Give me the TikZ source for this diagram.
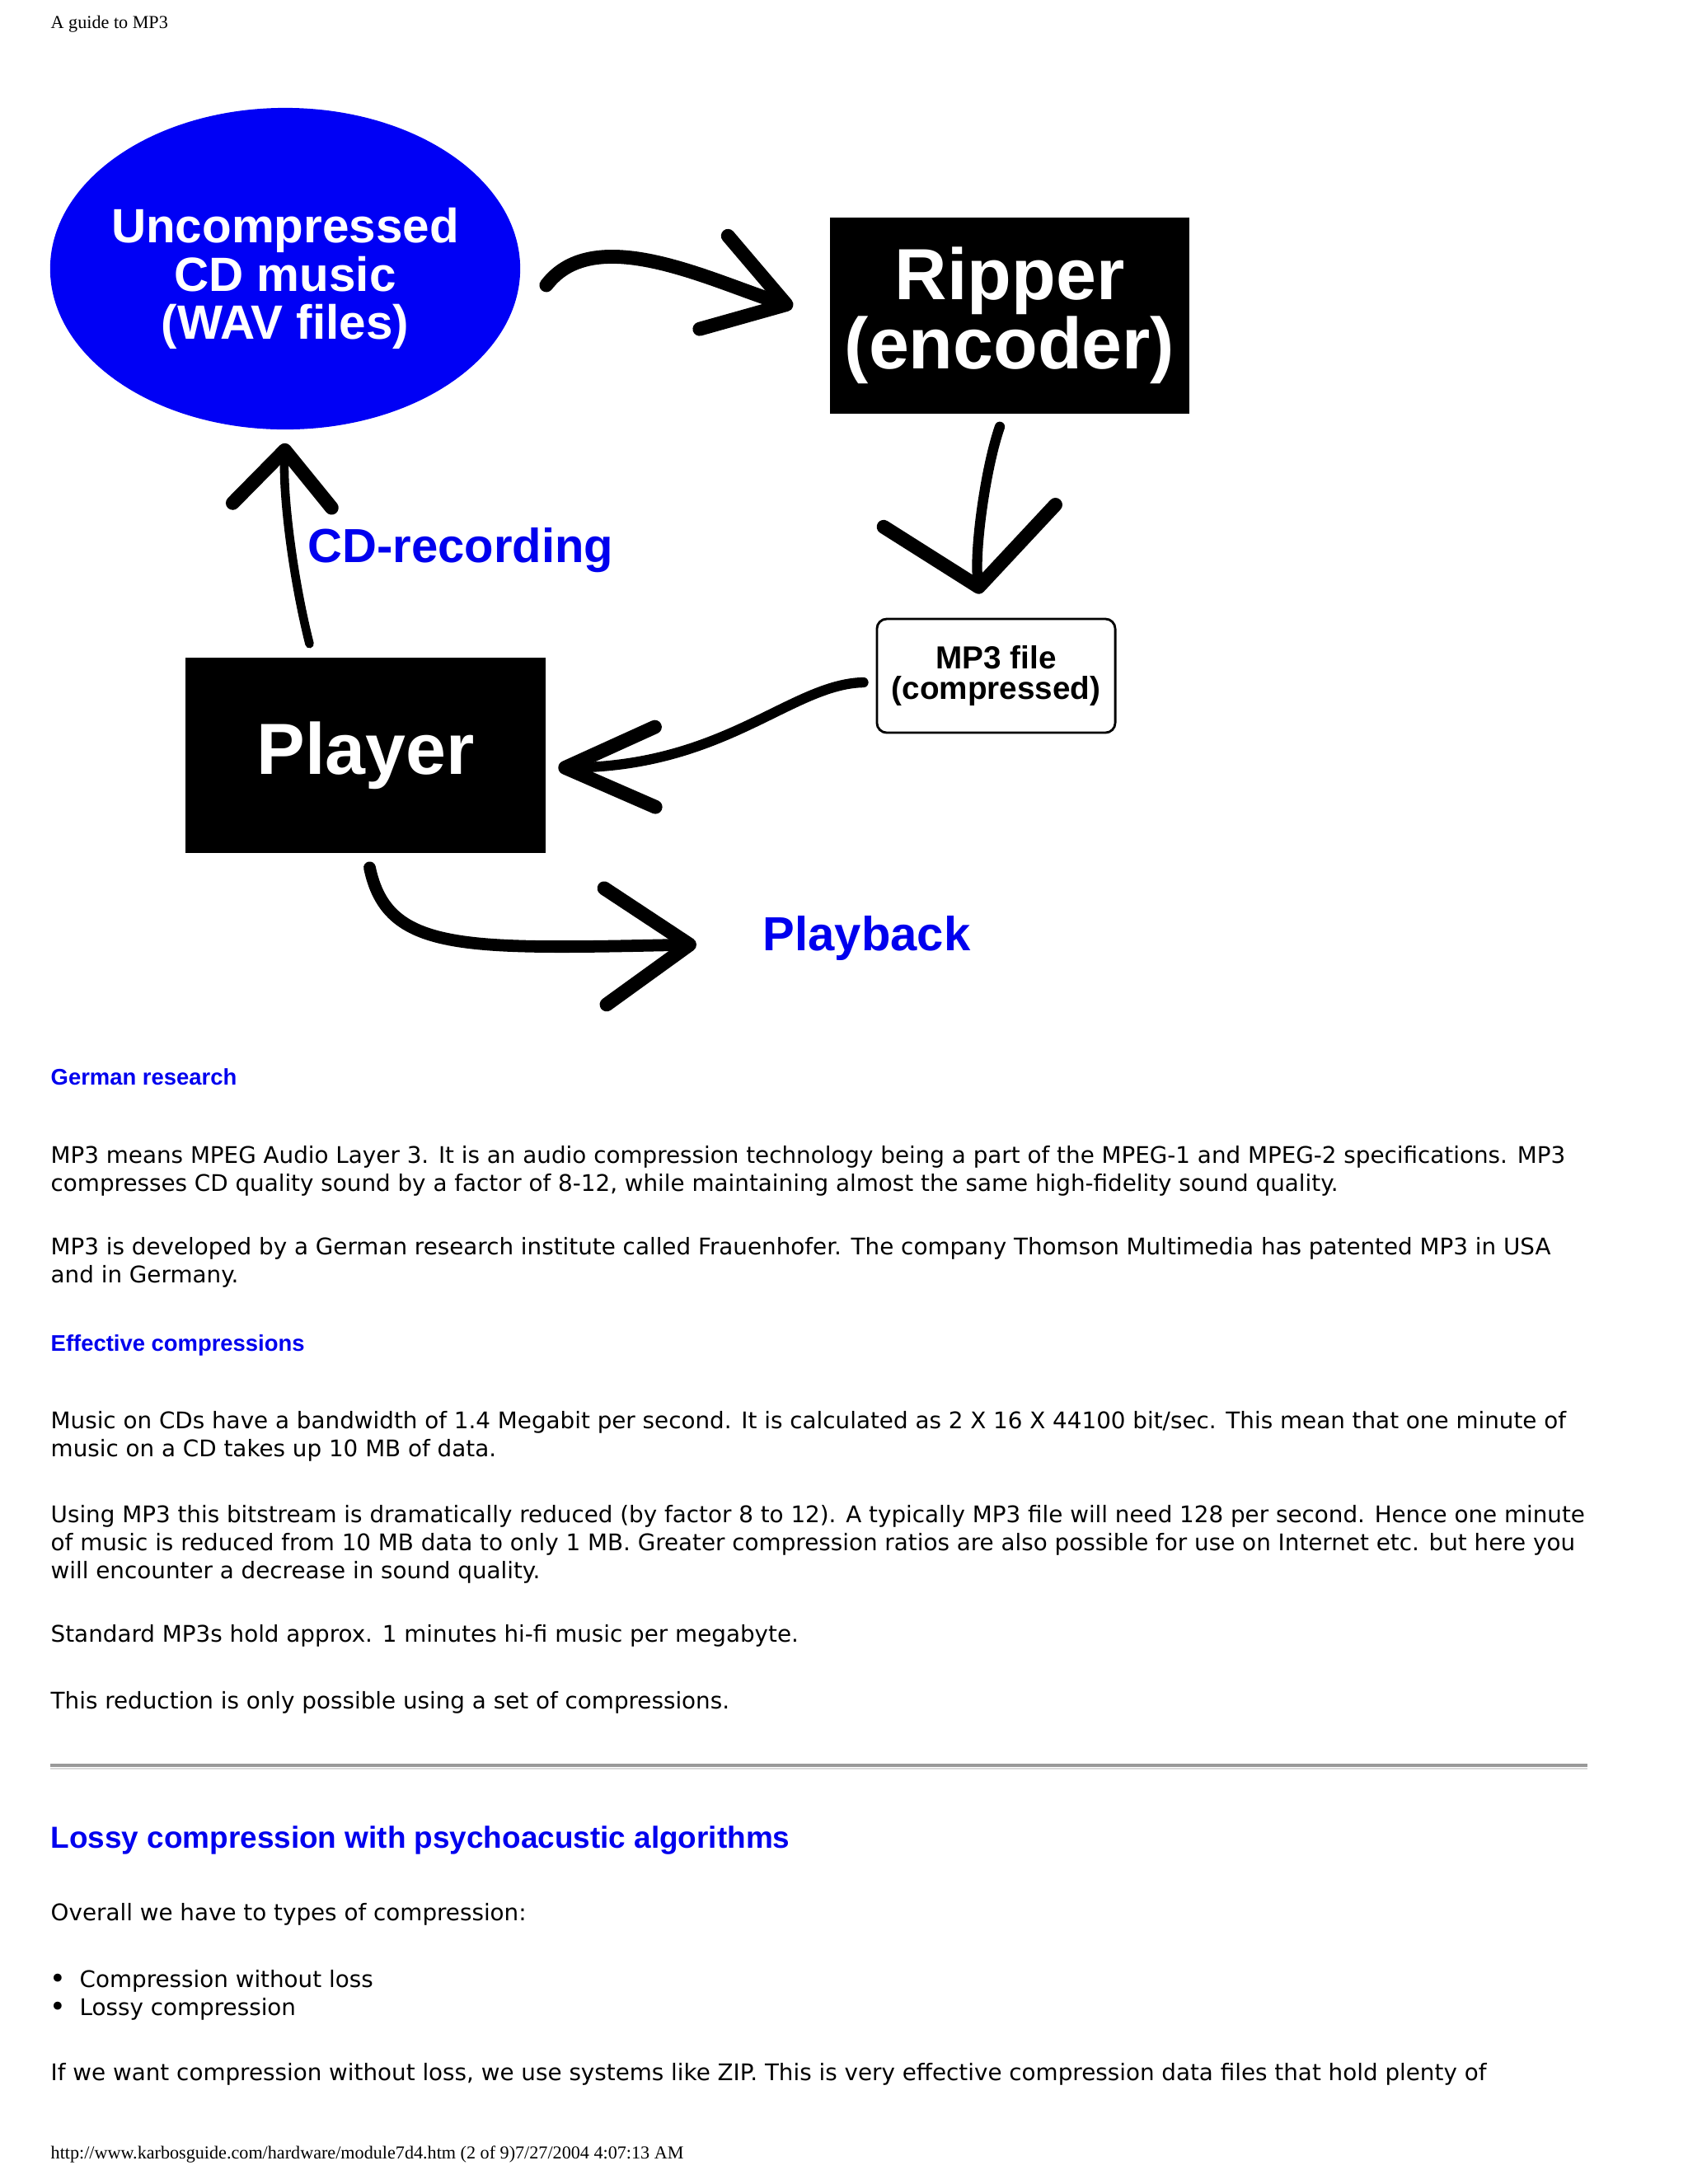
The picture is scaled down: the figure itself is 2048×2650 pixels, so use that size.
\documentclass[tikz,border=0pt]{standalone}
\usepackage{fontspec}
\setmainfont{DejaVu Sans}
\newfontfamily\arialf{Liberation Sans}
\newfontfamily\timesf{Liberation Serif}
\usetikzlibrary{arrows.meta,shapes.geometric}
\definecolor{htmlblue}{RGB}{0,0,238}
\definecolor{discblue}{RGB}{0,0,245}
\setlength\lineskiplimit{-100pt}

\tikzset{
  flow/.style 2 args={line width=3.5pt, line cap=round, -{Straight Barb[length=#1, width=#2, line width=4.8pt, round]}},
  disc/.style={ellipse, fill=discblue, minimum width=5.7cm, minimum height=3.9cm, inner sep=0pt},
  disctext/.style={text=white, align=center, inner sep=0pt, font=\arialf\bfseries\fontsize{16.6}{16.6}\selectfont},
  blackbox/.style={fill=black, text=white, minimum width=4.36cm, inner sep=0pt, align=center, font=\arialf\bfseries\fontsize{25}{24}\selectfont},
  filebox/.style={draw, rounded corners=0.12cm, line width=0.8pt, minimum width=2.89cm, minimum height=1.38cm, inner sep=0pt, align=center, font=\arialf\bfseries\fontsize{11}{10.6}\selectfont},
  bluelabel/.style={anchor=base west, inner sep=0pt, text=htmlblue, font=\arialf\bfseries\fontsize{16.5}{16.5}\selectfont},
  para/.style={anchor=base west, inner sep=0pt, align=left, font=\fontsize{7.9}{9.6}\selectfont},
  subhead/.style={anchor=base west, inner sep=0pt, text=htmlblue, font=\arialf\bfseries\fontsize{7.8}{9.6}\selectfont},
  bighead/.style={anchor=base west, inner sep=0pt, text=htmlblue, font=\arialf\bfseries\fontsize{10.5}{12}\selectfont},
  pageinfo/.style={anchor=base west, inner sep=0pt, font=\timesf\fontsize{6.3}{7.5}\selectfont}
}

\begin{document}
\begin{tikzpicture}[x=0.01cm, y=0.01cm]

  \fill[white] (0,0) rectangle (2048,-2650);
  \useasboundingbox (0,0) rectangle (2048,-2650);

  \node[pageinfo] (top) at (61,-34) {A guide to MP3};

  % the cycle
  \node[disc, label={[disctext, yshift=-3.4pt]center:Uncompressed\\CD music\\(WAV files)}] (cd) at (346,-326) {};
  \node[blackbox, minimum height=2.38cm] (ripper) at (1225,-383) {Ripper\\(encoder)};
  \node[filebox] (mp3) at (1208.5,-820) {MP3 file\\(compressed)};
  \node[blackbox, minimum height=2.37cm] (player) at (443.5,-916.5) {Player};
  \node[bluelabel] (rec) at (373,-682) {CD-recording};
  \node[bluelabel] (play) at (925,-1153) {Playback};

  \draw[flow={0.92cm}{1.18cm}, line width=4.8pt] ([shift={(31,-20)}]cd.east) .. controls (722,-268) and (867,-343) .. ([shift={(-44,11)}]ripper.west);
  \draw[flow={0.87cm}{2.1cm}] ([shift={(-12,-15)}]ripper.south) .. controls (1195,-570) and (1182,-670) .. ([shift={(-20,29)}]mp3.north);
  \draw[flow={1.09cm}{0.97cm}] ([shift={(-15,-8)}]mp3.west) .. controls (960,-830) and (880,-930) .. ([shift={(15,-15)}]player.east);
  \draw[flow={0.67cm}{1.2cm}, line width=3pt] ([shift={(-68,16)}]player.north) .. controls (355,-700) and (343,-600) .. ([shift={(0,-16)}]cd.south);
  \draw[flow={1.02cm}{1.41cm}, line width=4.2pt] ([shift={(5,-17)}]player.south) .. controls (470,-1155) and (560,-1152) .. ([shift={(-80,-8)}]play.west);

  % page text
  \node[subhead] (h1) at (61,-1316) {German research};
  \node[para] (p1) at (61,-1445) {MP3 means MPEG Audio Layer 3. It is an audio compression technology being a part of the MPEG-1 and MPEG-2 specifications. MP3\\compresses CD quality sound by a factor of 8-12, while maintaining almost the same high-fidelity sound quality.};
  \node[para] (p2) at (61,-1556) {MP3 is developed by a German research institute called Frauenhofer. The company Thomson Multimedia has patented MP3 in USA\\and in Germany.};
  \node[subhead] (h2) at (61,-1639) {Effective compressions};
  \node[para] (p3) at (61,-1767) {Music on CDs have a bandwidth of 1.4 Megabit per second. It is calculated as 2 X 16 X 44100 bit/sec. This mean that one minute of\\music on a CD takes up 10 MB of data.};
  \node[para] (p4) at (61,-1915) {Using MP3 this bitstream is dramatically reduced (by factor 8 to 12). A typically MP3 file will need 128 per second. Hence one minute\\of music is reduced from 10 MB data to only 1 MB. Greater compression ratios are also possible for use on Internet etc. but here you\\will encounter a decrease in sound quality.};
  \node[para] (p5) at (61,-1992) {Standard MP3s hold approx. 1 minutes hi-fi music per megabyte.};
  \node[para] (p6) at (61,-2073) {This reduction is only possible using a set of compressions.};

  \draw[gray!80, line width=1.1pt] (61,-2142) -- (1926,-2142);
  \draw[gray!30, line width=0.6pt] (61,-2146) -- (1926,-2146);

  \node[bighead] (h3) at (61,-2242) {Lossy compression with psychoacustic algorithms};
  \node[para] (p7) at (61,-2330) {Overall we have to types of compression:};
  \foreach \txt [count=\i] in {Compression without loss, Lossy compression} {
    \node[para, font=\fontsize{9.5}{9.6}\selectfont] (dot\i) at (60,-2378-34*\i) {\textbullet};
    \node[para] (item\i) at (96,-2377-34*\i) {\txt};
  }
  \node[para] (p8) at (61,-2524) {If we want compression without loss, we use systems like ZIP. This is very effective compression data files that hold plenty of};

  \node[pageinfo] (foot) at (61,-2619) {http://www.karbosguide.com/hardware/module7d4.htm (2 of 9)7/27/2004 4:07:13 AM};
\end{tikzpicture}
\end{document}
